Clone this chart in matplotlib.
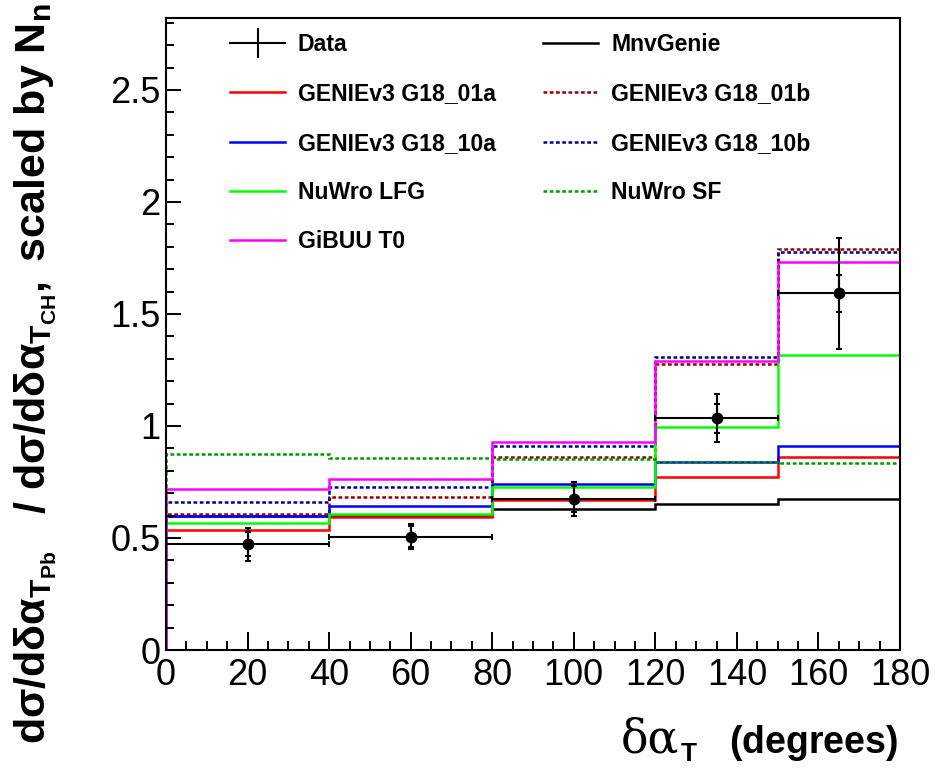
import numpy as np
import matplotlib
matplotlib.use("Agg")
import matplotlib.pyplot as plt
from matplotlib.lines import Line2D
from matplotlib.ticker import MultipleLocator

plt.rcParams['font.family'] = ['Liberation Sans', 'DejaVu Sans']
plt.rcParams['mathtext.fontset'] = 'custom'
plt.rcParams['mathtext.rm'] = 'Liberation Serif'
plt.rcParams['mathtext.bf'] = 'Liberation Sans:bold'
plt.rcParams['mathtext.it'] = 'Liberation Sans:italic'

# bin edges in delta alpha_T (degrees)
edges = [0, 40, 80, 120, 150, 180]

# model predictions (ratio Pb / CH)
mnvgenie = [0.597, 0.598, 0.631, 0.650, 0.676]
g18_01a = [0.536, 0.595, 0.670, 0.771, 0.863]
g18_01b = [0.606, 0.682, 0.863, 1.277, 1.792]
g18_10a = [0.600, 0.644, 0.740, 0.838, 0.911]
g18_10b = [0.662, 0.728, 0.912, 1.307, 1.777]
nuwro_lfg = [0.568, 0.606, 0.729, 0.994, 1.317]
nuwro_sf = [0.875, 0.856, 0.851, 0.841, 0.833]
gibuu_t0 = [0.717, 0.765, 0.930, 1.292, 1.731]

# data points
data_x = [20, 60, 100, 135, 165]
data_xerr = [20, 20, 20, 15, 15]
data_y = [0.472, 0.506, 0.674, 1.034, 1.592]
data_stat = [0.054, 0.046, 0.060, 0.065, 0.084]
data_tot = [0.073, 0.056, 0.078, 0.107, 0.249]

yticks = [0, 0.5, 1, 1.5, 2, 2.5]
ytick_labels = ["0", "0.5", "1", "1.5", "2", "2.5"]
xticks = [0, 20, 40, 60, 80, 100, 120, 140, 160, 180]
xtick_labels = ["0", "20", "40", "60", "80", "100", "120", "140", "160", "180"]

fig = plt.figure(figsize=(9.37, 7.69), dpi=100)
ax = fig.add_axes([166 / 937, 1 - 650 / 769, 734 / 937, 632 / 769])

lw = 1.8
dot = (0, (1.5, 1.0))
models = [
    (mnvgenie, "black", "-", "MnvGenie"),
    (g18_01a, "#ff0000", "-", "GENIEv3 G18_01a"),
    (g18_01b, "#990000", dot, "GENIEv3 G18_01b"),
    (g18_10a, "#0000ff", "-", "GENIEv3 G18_10a"),
    (g18_10b, "#000099", dot, "GENIEv3 G18_10b"),
    (nuwro_lfg, "#00ff00", "-", "NuWro LFG"),
    (nuwro_sf, "#009900", dot, "NuWro SF"),
    (gibuu_t0, "#ff00ff", "-", "GiBUU T0"),
]
handles = {}
for vals, col, ls, lab in models:
    ax.stairs(vals, edges, baseline=0, color=col, linestyle=ls, linewidth=lw)
    handles[lab] = Line2D([], [], color=col, linestyle=ls, linewidth=lw)

# data: total errors with x extent, stat errors as inner ticks
ax.errorbar(data_x, data_y, xerr=data_xerr, yerr=data_tot, fmt='o', color='black',
            ms=7.5, elinewidth=1.5, capsize=2.5, capthick=1.5, zorder=5)
ax.errorbar(data_x, data_y, yerr=data_stat, fmt='none', ecolor='black',
            elinewidth=1.5, capsize=2.5, capthick=1.5, zorder=5)
handles["Data"] = Line2D([], [], color='black', linewidth=1.5, marker='|',
                         markersize=22, markeredgewidth=1.5)

order = ["Data", "GENIEv3 G18_01a", "GENIEv3 G18_10a", "NuWro LFG", "GiBUU T0",
         "MnvGenie", "GENIEv3 G18_01b", "GENIEv3 G18_10b", "NuWro SF"]
leg = ax.legend([handles[k] for k in order], order, ncol=2, loc='upper left',
                bbox_to_anchor=(0.087, 0.976), frameon=False, borderpad=0, borderaxespad=0,
                prop={'weight': 'bold', 'size': 16.6}, handlelength=2.4, handletextpad=0.55,
                columnspacing=2.05, labelspacing=1.14)

ax.set_xlim(0, 180)
ax.set_ylim(0, 2.821)
ax.set_xticks(xticks)
ax.set_xticklabels(xtick_labels)
ax.set_yticks(yticks)
ax.set_yticklabels(ytick_labels)
ax.xaxis.set_minor_locator(MultipleLocator(5))
ax.yaxis.set_minor_locator(MultipleLocator(0.1))
ax.tick_params(axis='x', which='major', direction='in', length=13, width=1.4,
               labelsize=26, pad=6, top=False)
ax.tick_params(axis='x', which='minor', direction='in', length=6.5, width=1.4, top=False)
ax.tick_params(axis='y', which='major', direction='in', length=11, width=1.4,
               labelsize=26, pad=4, right=False)
ax.tick_params(axis='y', which='minor', direction='in', length=5.5, width=1.4, right=False)
for s in ax.spines.values():
    s.set_linewidth(1.5)

# x title: greek in serif, rest bold sans
base = 1 - 753 / 769
fig.text(898 / 937, base, r"$\mathbf{(degrees)}$", ha='right', va='baseline', fontsize=27)
fig.text(679 / 937, base, "δα", family='DejaVu Serif', ha='right', va='baseline', fontsize=33)
fig.text(681 / 937, 1 - 761 / 769, "T", weight='bold', ha='left', va='baseline', fontsize=19)

ylab = (r"$\mathbf{dσ/dδα}_{\mathbf{T}_{\mathbf{Pb}}}\quad\mathbf{/\ dσ/dδα}_{\mathbf{T}_{\mathbf{CH}}}"
        r"\mathbf{,\ scaled\ by\ N}_{\mathbf{n}}$")
fig.text(12 / 937, 1 - 3 / 769, ylab, rotation=90, ha='left', va='top', fontsize=31)

fig.savefig("out.png", dpi=100)
